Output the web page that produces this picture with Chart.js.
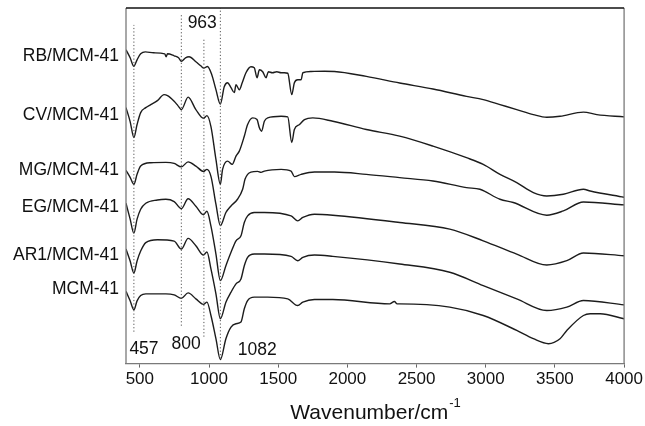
<!DOCTYPE html>
<html>
<head>
<meta charset="utf-8">
<script src="https://cdn.jsdelivr.net/npm/chart.js@4/dist/chart.umd.min.js"></script>
<style>
  html, body { margin: 0; padding: 0; background: #fff; }
  #wrap { width: 645px; height: 426px; position: relative; }
</style>
</head>
<body>
<div id="wrap"><canvas id="c" width="645" height="426"></canvas></div>
<script>
// ---- Data (wavenumber in cm^-1, transmittance in arbitrary offset units) ----
const xTicks = [500, 1000, 1500, 2000, 2500, 3000, 3500, 4000];
const seriesNames = ["RB/MCM-41", "CV/MCM-41", "MG/MCM-41", "EG/MCM-41", "AR1/MCM-41", "MCM-41"];
const seriesLabelY = [309, 249, 194.3, 156.7, 109, 75];

const rbWn = [400,430,457,480,506,540,600,680,690,700,748,780,800,830,856,905,940,963,989,1020,1050,1082,1110,1134,1159,1183,1195,1219,1240,1267,1303,1327,1347,1364,1388,1412,1429,1458,1490,1521,1545,1569,1598,1617,1641,1666,1678,1738,1835,1907,2137,2378,2619,2861,2982,3103,3224,3344,3441,3537,3706,3803,4000];
const rbT  = [315,307,298.5,305,311,313,312,311,308,311,309,307,303.5,307,308,303,299,296.7,298.3,290,275,260.5,278,282,277,272,280,275,282,292,298,297,287,295,293,287,293,292,293,292,292,291.5,270,282,285,285,292,293.3,293.5,293.3,288.3,281.7,275.7,268.3,265,260,255,250,247.3,248.3,252.5,250,247.7];

const cvWn = [400,430,457,480,506,543,579,627,675,700,748,775,800,849,905,960,985,1014,1050,1082,1098,1134,1168,1195,1219,1255,1279,1315,1347,1364,1380,1400,1424,1521,1569,1598,1617,1654,1690,1750,1895,2137,2378,2619,2861,2982,3103,3224,3344,3441,3561,3706,3755,4000];
const cvT  = [257,243,227,240,252,257,260,264,270,269,263.3,259,255,267.5,255,246.3,249,238,205,180,195,203.3,200,208.3,213.3,228.3,240,246.7,245,236.7,233.3,243.3,246.7,248.3,247.7,222,235,240,245,246.7,243.3,235,228.3,218.3,206.7,200,190,181.7,171.7,168.3,170,175,173.3,167];

const mgWn = [400,430,457,480,506,579,688,748,800,849,905,960,985,1014,1050,1082,1122,1159,1206,1243,1260,1279,1303,1351,1376,1400,1521,1593,1617,1666,1762,1907,2137,2378,2619,2861,2958,3103,3199,3441,3561,3706,4000];
const mgT  = [194,187,180,190,198.3,201.7,202,201,197.5,202.5,198.3,193,195,188,160,138.5,151.7,158.3,165,175,185,190,192.3,193,192,193.3,195,193.3,187.7,190,192.3,192.3,190,186.7,183.3,176.7,175,165,161.7,149,153.3,162.3,159.3];

const egWn = [400,430,457,480,506,543,627,688,748,800,849,905,960,985,1014,1050,1082,1122,1159,1195,1231,1255,1279,1327,1400,1593,1641,1678,1762,1895,2378,2740,2982,3224,3441,3586,3706,4000];
const egT  = [161,145,131,145,155,161,164.3,165,162.7,155.5,165.5,158,149.5,153,138,110,83.3,98.3,111.7,123.3,128.3,141.7,148.3,151.7,151.7,148.3,143.3,146.7,150,149,141.7,135,123.3,110,99,103.3,111,108.3];

const ar1Wn = [400,430,457,480,506,543,627,748,800,849,905,960,985,1014,1050,1082,1122,1159,1195,1231,1255,1279,1327,1400,1593,1641,1678,1762,1895,2378,2740,2982,3224,3441,3586,3706,4000];
const ar1T  = [115,103,91,103,113,121.5,124.3,123,115,125.7,118.3,109,112,95,70,45,61.7,71.7,80,85,98.3,106.7,110,110,107.7,103.3,106.7,109,107.7,100,91.7,78.3,65,53.3,56.7,63.3,59];

const mcmWn = [400,430,457,480,506,543,688,748,800,849,905,960,985,1014,1050,1082,1122,1159,1195,1231,1255,1279,1327,1424,1569,1641,1678,1762,1895,2306,2340,2360,2378,2740,2982,3224,3344,3453,3537,3586,3706,3755,3827,4000];
const mcmT  = [72.5,63,54,63,68.3,70,70,69,65.5,71,65,59.5,61.7,48.3,25,4,25,36.7,40,41.7,55,63.3,66.7,66.7,65,58.3,61.7,64.3,64.3,60,62.3,60,60,56.7,48.3,33.3,25,20,25,33.3,48.3,50,50,45];

// reference band markers (dotted lines) and their labels
const markerWn     = [457, 800, 963, 1082];
const markerTop    = [340, 350, 327, 357];
const markerBottom = [32, 38, 27, 5];
const markerText   = ["457", "800", "963", "1082"];
const markerTextWn = [530, 835, 951, 1349];
const markerTextY  = [14, 20, 341.5, 13];

// ---- Build datasets ----
const FONT = "'Liberation Sans', Arial, Helvetica, sans-serif";
const spectra = [[rbWn, rbT], [cvWn, cvT], [mgWn, mgT], [egWn, egT], [ar1Wn, ar1T], [mcmWn, mcmT]];
const datasets = [];
markerWn.forEach((w, i) => {
  datasets.push({
    label: "marker " + markerText[i],
    data: [{x: w, y: markerBottom[i]}, {x: w, y: markerTop[i]}],
    borderColor: "#555",
    borderWidth: 1,
    borderDash: [1.2, 2.2],
    pointRadius: 0,
    tension: 0
  });
});
spectra.forEach((s, i) => {
  datasets.push({
    label: seriesNames[i],
    data: s[0].map((w, j) => ({x: w, y: s[1][j]})),
    borderColor: "#1c1c1c",
    borderWidth: 1.4,
    pointRadius: 0,
    cubicInterpolationMode: "monotone"
  });
});

const decor = {
  id: "decor",
  afterDraw(chart) {
    const ctx = chart.ctx, a = chart.chartArea;
    const xs = chart.scales.x, ys = chart.scales.y;
    ctx.save();
    // frame
    ctx.lineWidth = 1.3;
    ctx.strokeStyle = "#7a7a7a";
    ctx.beginPath();
    ctx.moveTo(a.left, a.bottom); ctx.lineTo(a.left, a.top);
    ctx.moveTo(a.right, a.top); ctx.lineTo(a.right, a.bottom);
    ctx.stroke();
    ctx.strokeStyle = "#111";
    ctx.lineWidth = 1.6;
    ctx.beginPath();
    ctx.moveTo(a.left, a.top); ctx.lineTo(a.right, a.top);
    ctx.stroke();

    // series labels
    ctx.fillStyle = "#111";
    ctx.font = "17.5px " + FONT;
    ctx.textAlign = "right";
    ctx.textBaseline = "middle";
    seriesNames.forEach((n, i) => {
      ctx.fillText(n, a.left - 7, ys.getPixelForValue(seriesLabelY[i]));
    });
    // marker labels
    ctx.textAlign = "center";
    markerText.forEach((t, i) => {
      ctx.fillText(t, xs.getPixelForValue(markerTextWn[i]), ys.getPixelForValue(markerTextY[i]));
    });
    // axis title with superscript
    const main = "Wavenumber/cm", sup = "-1";
    ctx.font = "21px " + FONT;
    const w1 = ctx.measureText(main).width;
    ctx.font = "13px " + FONT;
    const w2 = ctx.measureText(sup).width;
    const cx = (a.left + a.right) / 2;
    const x0 = cx - (w1 + w2) / 2;
    ctx.textAlign = "left";
    ctx.textBaseline = "alphabetic";
    ctx.font = "21px " + FONT;
    ctx.fillText(main, x0, 419);
    ctx.font = "13px " + FONT;
    ctx.fillText(sup, x0 + w1 + 1, 407);
    ctx.restore();
  }
};

new Chart(document.getElementById("c"), {
  type: "line",
  data: { datasets },
  options: {
    responsive: false,
    animation: false,
    events: [],
    layout: { padding: { left: 126, right: 20, top: 8, bottom: 34 } },
    plugins: { legend: { display: false }, tooltip: { enabled: false } },
    scales: {
      x: {
        type: "linear",
        min: 400, max: 4000,
        afterBuildTicks(scale) { scale.ticks = xTicks.map(v => ({ value: v })); },
        grid: { drawOnChartArea: false, drawTicks: true, tickLength: 4, color: "#666", lineWidth: 1 },
        border: { display: true, color: "#7a7a7a", width: 1.3 },
        ticks: {
          font: { size: 17, family: FONT }, color: "#111", padding: 2, maxRotation: 0, autoSkip: false,
          callback: (v) => String(v)
        }
      },
      y: {
        type: "linear",
        display: false,
        min: 0, max: 357
      }
    }
  },
  plugins: [decor]
});
</script>
</body>
</html>
